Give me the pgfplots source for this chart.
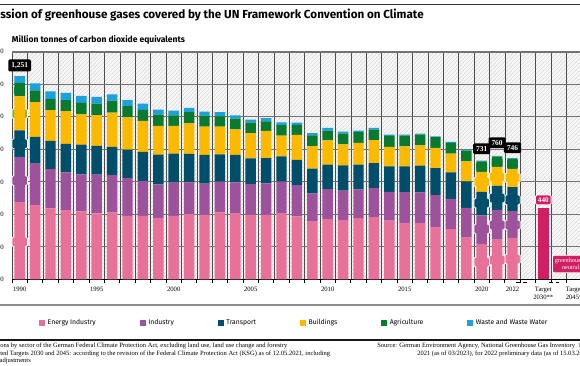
\documentclass[border=0pt]{standalone}
\usepackage{fontspec}
\setmainfont{Liberation Serif}
\newfontfamily\sansf{Fira Sans}
\usepackage{pgfplots}
\pgfplotsset{compat=1.18}
\usepackage{pgfplotstable}
\usetikzlibrary{patterns}
\definecolor{cEn}{HTML}{E8719A}
\definecolor{cIn}{HTML}{9C539C}
\definecolor{cTr}{HTML}{004E6A}
\definecolor{cBu}{HTML}{FBBA00}
\definecolor{cAg}{HTML}{0A7A2F}
\definecolor{cWa}{HTML}{1BA1DB}
\definecolor{cTg}{HTML}{D11F63}
\definecolor{cLg}{HTML}{7DBA3E}
\pgfplotstableread{
x E I T B A W G
0 475 279 163 210 83 41 0
1 459 254 165 214 72 43 0
2 437 241 175 189 70 46 0
3 426 233 175 202 68 45 0
4 418 229 183 186 70 43 0
5 406 239 177 189 71 41 0
6 412 229 175 210 74 39 0
7 391 233 175 198 70 37 0
8 391 215 179 191 68 38 0
9 379 205 184 177 70 30 0
10 391 204 179 171 65 29 0
11 401 196 175 189 68 27 0
12 397 192 177 175 67 25 0
13 412 189 169 171 63 25 0
14 405 192 169 158 66 20 0
15 397 190 158 156 64 19 0
16 397 194 156 167 59 19 0
17 405 196 156 128 64 18 0
18 387 193 155 154 62 14 0
19 358 171 152 140 66 14 0
20 370 186 150 150 60 16 0
21 366 181 155 129 66 13 0
22 377 177 152 134 66 10 0
23 383 179 154 142 64 10 0
24 362 177 156 120 68 8 0
25 348 189 158 124 66 6 0
26 346 189 165 125 66 6 0
27 321 198 166 124 66 6 0
28 309 187 163 115 66 6 0
29 257 183 163 123 66 6 0
30 218 176 145 123 64 5 0
31 245 183 147 118 63 4 0
32 256 164 148 112 62 4 0
34 0 0 0 0 0 0 440
36 0 0 0 0 0 0 0
}\data
\begin{document}
\begin{tikzpicture}
\useasboundingbox (0,0) rectangle (435pt,274.5pt);
\clip (0,0) rectangle (435pt,274.5pt);
\fill[white] (0,0) rectangle (435pt,274.5pt);
% title area
\draw[black!80, line width=0.8pt] (0,271.1pt) -- (435pt,271.1pt);
\node[anchor=base west, inner sep=0pt, font=\sansf\bfseries\fontsize{8.75}{10}\selectfont] at (0,260.5pt) {\llap{Emi}ssion of greenhouse gases covered by the UN Framework Convention on Climate};
\node[anchor=base west, inner sep=0pt, font=\sansf\bfseries\fontsize{6.4}{7}\selectfont] at (8.8pt,242.3pt) {Million tonnes of carbon dioxide equivalents};
\begin{axis}[
  at={(9pt,65pt)}, anchor=south west, scale only axis,
  width=438.9pt, height=170.5pt,
  xmin=-0.5, xmax=37.5, ymin=0, ymax=1400,
  ybar stacked, bar width=0.68,
  clip=false,
  axis background/.style={fill=gray!6, postaction={pattern=north east lines, pattern color=gray!30}},
  axis x line*=bottom, axis y line*=left,
  y axis line style={draw=none},
  x axis line style={black, line width=0.7pt},
  ytick={0,200,...,1400},
  ytick style={draw=none},
  /pgf/number format/assume math mode=true,
  /pgf/number format/1000 sep={,},
  yticklabel style={font=\fontsize{5}{6}\selectfont, anchor=east, xshift=-2.6pt},
  xtick={0,5,10,15,20,25,30,32,34,36},
  xticklabels={1990,1995,2000,2005,2010,2015,2020,2022,{Target\\2030**},{Target\\2045*}},
  xticklabel style={font=\fontsize{5}{6}\selectfont, align=center, anchor=north, yshift=-2.5pt},
  major tick length=0pt,
  minor xtick={-0.5,0.5,...,37.5},
  minor tick length=2.5pt,
  tick align=outside,
  minor x tick style={black, line width=0.6pt},
  xminorgrids=true, ymajorgrids=true,
  minor x grid style={black!70, line width=0.45pt},
  major y grid style={black!55, line width=0.8pt},
  legend columns=6,
  legend style={at={(0.046,-0.192)}, anchor=west, draw=none, fill=none, inner sep=0pt,
    font=\sansf\fontsize{5.1}{6}\selectfont,
    /tikz/every even column/.append style={column sep=31pt}},
  legend image code/.code={\fill[#1] (0pt,-2.2pt) rectangle (4.4pt,2.2pt);},
]
\addplot[fill=cEn, draw=none] table[x=x,y=E]{\data}; \addlegendentry{Energy Industry}
\addplot[fill=cIn, draw=none] table[x=x,y=I]{\data}; \addlegendentry{Industry}
\addplot[fill=cTr, draw=none] table[x=x,y=T]{\data}; \addlegendentry{Transport}
\addplot[fill=cBu, draw=none] table[x=x,y=B]{\data}; \addlegendentry{Buildings}
\addplot[fill=cAg, draw=none] table[x=x,y=A]{\data}; \addlegendentry{Agriculture}
\addplot[fill=cWa, draw=none] table[x=x,y=W]{\data}; \addlegendentry{Waste and Waste Water}
\addplot[fill=cTg, draw=none, forget plot] table[x=x,y=G]{\data};
% axis break marks
\draw[black, densely dashed, line width=0.5pt] (axis cs:32.25,-16) -- (axis cs:32.95,-16);
\draw[black, densely dashed, line width=0.5pt] (axis cs:34.4,-16) -- (axis cs:35.05,-16);
% value labels
\tikzset{lab/.style={rounded corners=1pt, draw=white, line width=0.6pt, text=white,
  font=\bfseries\fontsize{5.4}{6}\selectfont, inner sep=1.8pt},
  tot/.style={rounded corners=1pt, fill=black, text=white,
  font=\bfseries\fontsize{5.6}{6}\selectfont, inner sep=2.2pt}}
\node[tot] at (axis cs:0,1317) {1,251};
\node[lab, fill=cAg] at (axis cs:0,1162) {83};
\node[lab, fill=cLg] at (axis cs:0,1020) {210};
\node[lab, fill=cTr] at (axis cs:0,835) {163};
\node[lab, fill=cIn] at (axis cs:0,608) {279};
\node[lab, fill=cEn] at (axis cs:0,231) {475};
\node[tot] at (axis cs:30,804) {731};
\node[lab, fill=cAg] at (axis cs:30,693) {64};
\node[lab, fill=cBu] at (axis cs:30,600) {123};
\node[lab, fill=cTr] at (axis cs:30,470) {145};
\node[lab, fill=cIn] at (axis cs:30,310) {176};
\node[lab, fill=cEn] at (axis cs:30,106) {218};
\node[tot] at (axis cs:31,841) {760};
\node[lab, fill=cAg] at (axis cs:31,718) {63};
\node[lab, fill=cBu] at (axis cs:31,631) {118};
\node[lab, fill=cTr] at (axis cs:31,501) {147};
\node[lab, fill=cIn] at (axis cs:31,335) {183};
\node[lab, fill=cEn] at (axis cs:31,119) {245};
\node[tot] at (axis cs:32,810) {746};
\node[lab, fill=cAg] at (axis cs:32,711) {62};
\node[lab, fill=cBu] at (axis cs:32,625) {112};
\node[lab, fill=cTr] at (axis cs:32,489) {148};
\node[lab, fill=cIn] at (axis cs:32,335) {164};
\node[lab, fill=cEn] at (axis cs:32,125) {256};
\node[lab, fill=cTg] at (axis cs:34,489) {440};
\node[lab, fill=cTg, align=center, font=\fontsize{4.7}{5.2}\selectfont] at (axis cs:36,94) {greenhouse gas\\neutrality};
\end{axis}
% separators
\draw[black!45, line width=1.6pt] (0,45.75pt) -- (435pt,45.75pt);
\draw[black!90, line width=1.5pt] (0,19.5pt) -- (435pt,19.5pt);
% footnotes
\begin{scope}[every node/.style={anchor=base west, inner sep=0pt, font=\fontsize{4.9}{6}\selectfont}]
\node at (0,13.8pt) {\llap{* Emissi}ons by sector of the German Federal Climate Protection Act, excluding land use, land use change and forestry};
\node at (0,8.1pt) {\llap{** Adjus}ted Targets 2030 and 2045: according to the revision of the Federal Climate Protection Act (KSG) as of 12.05.2021, including};
\node at (-0.5pt,2.5pt) {adjustments};
\node at (282.75pt,13.8pt) {Source: German Environment Agency, National Greenhouse Gas Inventory\enspace 1990--};
\node at (312.75pt,8.1pt) {2021 (as of 03/2023), for 2022 preliminary data (as of 15.03.2023)};
\end{scope}
\end{tikzpicture}
\end{document}
